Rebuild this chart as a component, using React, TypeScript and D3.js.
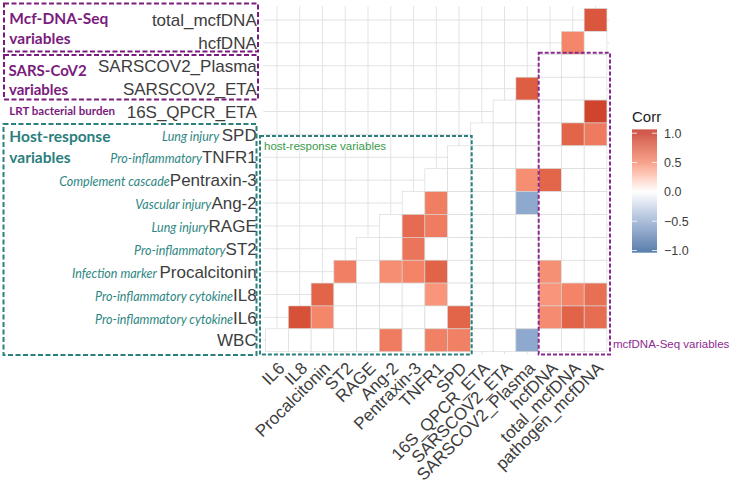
import React from "react";
import * as d3 from "d3";

// ---------- data ----------
const columns = [
  "IL6", "IL8", "Procalcitonin", "ST2", "RAGE", "Ang-2", "Pentraxin-3", "TNFR1", "SPD",
  "16S_QPCR_ETA", "SARSCOV2_ETA", "SARSCOV2_Plasma", "hcfDNA", "total_mcfDNA", "pathogen_mcfDNA",
];
// rows listed top to bottom
const rows = [
  "total_mcfDNA", "hcfDNA", "SARSCOV2_Plasma", "SARSCOV2_ETA", "16S_QPCR_ETA", "SPD", "TNFR1",
  "Pentraxin-3", "Ang-2", "RAGE", "ST2", "Procalcitonin", "IL8", "IL6", "WBC",
];
// italic annotation shown before a row label
const rowNotes: Record<string, string> = {
  SPD: "Lung injury ",
  TNFR1: "Pro-inflammatory",
  "Pentraxin-3": "Complement cascade",
  "Ang-2": "Vascular injury",
  RAGE: "Lung injury",
  ST2: "Pro-inflammatory",
  Procalcitonin: "Infection marker ",
  IL8: "Pro-inflammatory cytokine",
  IL6: "Pro-inflammatory cytokine",
};

// correlation of each row vs columns (null = outside the lower triangle)
const _ = null;
const rowTotalMcf = [_, _, _, _, _, _, _, _, _, _, _, _, _, _, 0.78];
const rowHcf = [_, _, _, _, _, _, _, _, _, _, _, _, _, 0.5, 0];
const rowSarsPlasma = [_, _, _, _, _, _, _, _, _, _, _, _, 0, 0, 0];
const rowSarsEta = [_, _, _, _, _, _, _, _, _, _, _, 0.74, 0, 0, 0];
const row16S = [_, _, _, _, _, _, _, _, _, _, 0, 0, 0, 0, 0.886];
const rowSPD = [_, _, _, _, _, _, _, _, _, 0, 0, 0, 0, 0.7, 0.565];
const rowTNFR1 = [_, _, _, _, _, _, _, _, 0, 0, 0, 0, 0, 0, 0];
const rowPentraxin = [_, _, _, _, _, _, _, 0, 0, 0, 0, 0.47, 0.69, 0, 0];
const rowAng2 = [_, _, _, _, _, _, 0, 0.55, 0, 0, 0, -0.52, 0, 0, 0];
const rowRAGE = [_, _, _, _, _, 0, 0.66, 0.56, 0, 0, 0, 0, 0, 0, 0];
const rowST2 = [_, _, _, _, 0, 0, 0.6, 0, 0, 0, 0, 0, 0, 0, 0];
const rowProcalcitonin = [_, _, _, 0.54, 0, 0.47, 0.51, 0.71, 0, 0, 0, 0, 0.46, 0, 0];
const rowIL8 = [_, _, 0.7, 0, 0, 0, 0, 0.44, 0, 0, 0, 0, 0.44, 0.51, 0.64];
const rowIL6 = [_, 0.81, 0.5, 0, 0, 0, 0, 0, 0.7, 0, 0, 0, 0.48, 0.71, 0.65];
const rowWBC = [0, 0, 0, 0, 0, 0.56, 0, 0.53, 0.53, 0, 0, -0.52, 0, 0, 0];

const rowValues = [
  rowTotalMcf, rowHcf, rowSarsPlasma, rowSarsEta, row16S, rowSPD, rowTNFR1, rowPentraxin,
  rowAng2, rowRAGE, rowST2, rowProcalcitonin, rowIL8, rowIL6, rowWBC,
];

const legendTicks = [1, 0.5, 0, -0.5, -1];

// ---------- layout ----------
const W = 733;
const H = 483;
const panel = { left: 263.35, right: 609.2, top: 6.3, bottom: 354 };
const AXIS_FONT = "'Liberation Sans', Arial, Helvetica, sans-serif";
const ANNO_FONT = "Lato, 'Open Sans', sans-serif";
const PURPLE = "#7a1c7d";
const TEAL = "#2a807d";

export default function App() {
  const x = d3.scaleBand<string>().domain(columns).range([panel.left, panel.right]).paddingInner(0).paddingOuter(0.1);
  const y = d3.scaleBand<string>().domain(rows).range([panel.top, panel.bottom]).paddingInner(0).paddingOuter(0.1);
  const bw = x.bandwidth();
  const bh = y.bandwidth();
  const color = d3
    .scaleLinear<string>()
    .domain([-1, -0.5, 0, 0.5, 1])
    .range(["#2f5f97", "#93acd0", "#ffffff", "#f4866a", "#c42a1b"])
    .interpolate(d3.interpolateLab);

  const legY = d3.scaleLinear().domain([-1, 1]).range([250.5, 133.2]);
  const barTop = 129.5;
  const barBottom = 252.5;
  const barX = 632;
  const barW = 25;
  const slices: { y: number; v: number }[] = [];
  for (let yy = barTop; yy < barBottom; yy += 1) {
    const v = Math.max(-1, Math.min(1, legY.invert(yy + 0.5)));
    slices.push({ y: yy, v });
  }

  const tiles: { r: string; c: string; v: number }[] = [];
  rows.forEach((r, i) => {
    rowValues[i].forEach((v, j) => {
      if (v !== null) tiles.push({ r, c: columns[j], v });
    });
  });

  return (
    <svg width={W} height={H} style={{ position: "absolute", left: 0, top: 0, background: "#fff" }}>
      <rect x={0} y={0} width={W} height={H} fill="#fff" />
      {/* grid */}
      <g stroke="#e3e3e3" strokeWidth={1}>
        {columns.map((c) => (
          <line key={"gx" + c} x1={x(c)! + bw / 2} x2={x(c)! + bw / 2} y1={panel.top} y2={panel.bottom} />
        ))}
        {rows.map((r) => (
          <line key={"gy" + r} y1={y(r)! + bh / 2} y2={y(r)! + bh / 2} x1={panel.left} x2={panel.right} />
        ))}
      </g>
      {/* tiles */}
      <g>
        {tiles.map((t) => (
          <rect
            key={t.r + "|" + t.c}
            x={x(t.c)}
            y={y(t.r)}
            width={bw}
            height={bh}
            fill={color(t.v)}
            stroke="#d6d6d6"
            strokeWidth={0.6}
          />
        ))}
      </g>
      {/* y axis labels */}
      <g fontFamily={AXIS_FONT} fontSize={17} fill="#3d3d3d">
        {rows.map((r) => (
          <text key={"yl" + r} x={panel.left - 6.6} y={y(r)! + bh / 2} dy="0.36em" textAnchor="end" style={{ whiteSpace: "pre" }}>
            {rowNotes[r] ? (
              <tspan fontFamily={ANNO_FONT} fontStyle="italic" fontSize={12.5} fill="#2e8783">
                {rowNotes[r]}
              </tspan>
            ) : null}
            <tspan>{r}</tspan>
          </text>
        ))}
      </g>
      {/* x axis labels */}
      <g fontFamily={AXIS_FONT} fontSize={17} fill="#3d3d3d">
        {columns.map((c) => (
          <text
            key={"xl" + c}
            transform={`translate(${x(c)! + bw / 2},${panel.bottom + 6.6}) rotate(-45)`}
            textAnchor="end"
            dy="0.72em"
          >
            {c}
          </text>
        ))}
      </g>
      {/* legend */}
      <g>
        <text x={632} y={121.5} fontFamily={AXIS_FONT} fontSize={15} fill="#222">
          Corr
        </text>
        {slices.map((s) => (
          <rect key={"ls" + s.y} x={barX} y={s.y} width={barW} height={1.05} fill={color(s.v)} />
        ))}
        {legendTicks.map((t) => (
          <g key={"lt" + t} stroke="#fff" strokeOpacity={0.8} strokeWidth={1}>
            <line x1={barX} x2={barX + 5} y1={legY(t)} y2={legY(t)} />
            <line x1={barX + barW - 5} x2={barX + barW} y1={legY(t)} y2={legY(t)} />
          </g>
        ))}
        {legendTicks.map((t) => (
          <text key={"ll" + t} x={664} y={legY(t)} dy="0.36em" fontFamily={AXIS_FONT} fontSize={12.5} fill="#3d3d3d">
            {d3.format(".1f")(t)}
          </text>
        ))}
      </g>
      {/* annotation boxes */}
      <g fill="none" strokeWidth={2}>
        <rect x={4} y={3.5} width={254} height={48} stroke={PURPLE} strokeDasharray="5,2.5" />
        <rect x={4} y={55} width={254} height={44.5} stroke={PURPLE} strokeDasharray="5,2.5" />
        <rect x={3.5} y={124} width={253} height={231} stroke={TEAL} strokeDasharray="5,2.5" />
        <rect x={260} y={136} width={211.7} height={218.5} stroke={TEAL} strokeDasharray="4,2" />
        <rect x={538.7} y={52.7} width={71.3} height={301.7} stroke="#8a2a8f" strokeDasharray="4,2" />
      </g>
      <g fontFamily={ANNO_FONT} fontWeight="bold">
        <text x={9.3} y={24} fontSize={15.5} fill={PURPLE}>Mcf-DNA-Seq</text>
        <text x={9.3} y={44} fontSize={15.5} fill={PURPLE}>variables</text>
        <text x={8.5} y={76} fontSize={15} fill={PURPLE}>SARS-CoV2</text>
        <text x={9} y={94.5} fontSize={15} fill={PURPLE}>variables</text>
        <text x={9.3} y={115} fontSize={11.5} fill={PURPLE}>LRT bacterial burden</text>
        <text x={9.3} y={142} fontSize={15.5} fill={TEAL}>Host-response</text>
        <text x={9.3} y={163} fontSize={15.5} fill={TEAL}>variables</text>
      </g>
      <text x={264} y={150} fontFamily={AXIS_FONT} fontSize={11.5} fill="#3a9a4a">
        host-response variables
      </text>
      <text x={613} y={348} fontFamily={AXIS_FONT} fontSize={11.5} fill="#8e2a91">
        mcfDNA-Seq variables
      </text>
    </svg>
  );
}
